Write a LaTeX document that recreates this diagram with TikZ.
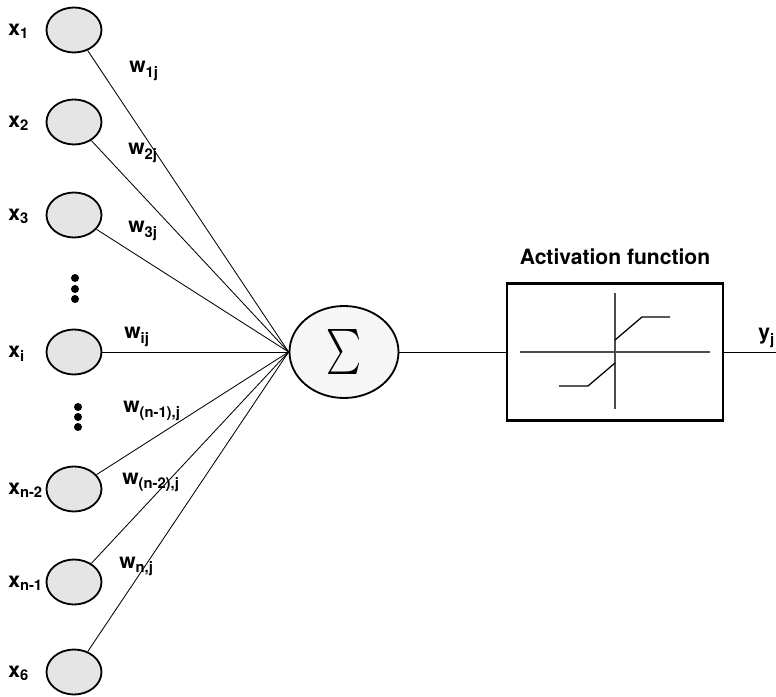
\documentclass[tikz,border=0pt]{standalone}
\usepackage{graphicx}
\usepackage{fontspec}
\setmainfont{TeX Gyre Heros}
\usepackage{tikz}
\usetikzlibrary{positioning,shapes}

\tikzset{
  inp/.style={draw, ellipse, line width=1.3pt, fill=gray!20, minimum width=1.375cm, minimum height=1.125cm, inner sep=0pt},
  sumnode/.style={draw, ellipse, line width=1.3pt, fill=gray!7, minimum width=2.725cm, minimum height=2.3cm, inner sep=0pt},
  actbox/.style={draw, line width=1.5pt, minimum width=5.4cm, minimum height=3.425cm, inner sep=0pt},
  lbl/.style={anchor=base west, inner sep=0pt, font=\fontsize{15}{18}\selectfont\bfseries},
  wire/.style={line width=0.6pt},
  curve/.style={line width=0.9pt},
  axis/.style={line width=0.9pt, black!70}
}

\begin{document}
\begin{tikzpicture}
\useasboundingbox (0,0) rectangle (19.4,17.4);

% inputs with their labels
\foreach \n/\y/\t in {1/16.65/{x\textsubscript{1}}, 2/14.35/{x\textsubscript{2}}, 3/12.025/{x\textsubscript{3}}, i/8.6/{x\textsubscript{i}}, m/5.175/{x\textsubscript{n-2}}, l/2.85/{x\textsubscript{n-1}}, 6/0.6/{x\textsubscript{6}}}{
  \node[inp] (x\n) at (1.85,\y) {};
  \node[lbl] (lx\n) at (0.2,\y-0.13) {\t};
}

% dots between the inputs
\foreach \k/\y in {1/10.45, 2/10.175, 3/9.925}
  \fill (1.875,\y) circle (0.1);
\foreach \k/\y in {1/7.225, 2/6.975, 3/6.725}
  \fill (1.95,\y) circle (0.1);

\node[sumnode] (sum) at (8.6,8.6) {\resizebox*{0.875cm}{1.125cm}{$\textstyle\sum$}};

\foreach \n in {1,2,3,i,m,l,6}
  \draw[wire] (x\n) -- (sum.west);

% weights
\node[lbl] (w1) at (3.225,15.575) {w\textsubscript{1j}};
\node[lbl] (w2) at (3.2,13.525) {w\textsubscript{2j}};
\node[lbl] (w3) at (3.2,11.575) {w\textsubscript{3j}};
\node[lbl] (wi) at (3.1,8.925) {w\textsubscript{ij}};
\node[lbl] (wl) at (3.075,7.075) {w\textsubscript{(n-1),j}};
\node[lbl] (wm) at (3.05,5.3) {w\textsubscript{(n-2),j}};
\node[lbl] (wn) at (2.975,3.2) {w\textsubscript{n,j}};

% activation
\node[actbox] (act) at (15.375,8.6) {};
\node[lbl, anchor=base] (acttitle) at (15.375,10.775) {Activation function};
\draw[axis] (13.0,8.6) -- (17.75,8.6);
\draw[axis] (15.375,7.175) -- (15.375,10.075);
\draw[curve] (15.375,8.9) -- (16.05,9.475) -- (16.75,9.475);
\draw[curve] (15.375,8.325) -- (14.7,7.75) -- (13.975,7.75);

\coordinate (out) at (19.4,8.6);
\draw[wire] (sum.east) -- (act.west);
\draw[wire] (act.east) -- (out);
\node[lbl] (y) at (18.95,8.9) {y\textsubscript{j}};

\end{tikzpicture}
\end{document}
